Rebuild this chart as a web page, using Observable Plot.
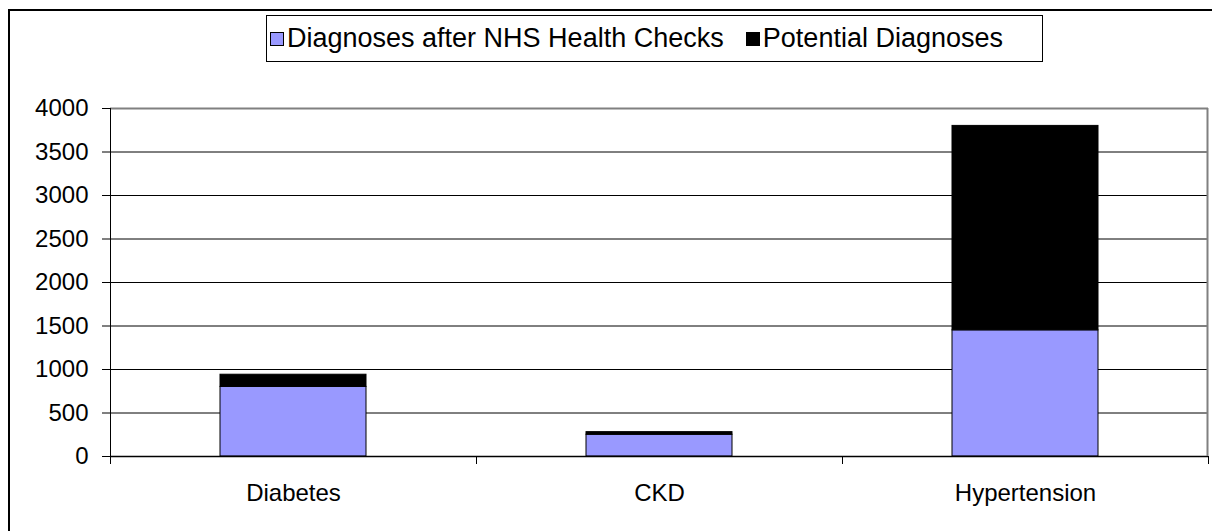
<!DOCTYPE html>
<html><head><meta charset="utf-8">
<script src="https://cdn.jsdelivr.net/npm/d3@7"></script>
<script src="https://cdn.jsdelivr.net/npm/@observablehq/plot@0.6"></script>
<style>
body{margin:0;background:#fff;font-family:"Liberation Sans",Arial,sans-serif;}
#wrap{position:relative;width:1212px;height:531px;overflow:hidden;background:#fff;}
#frame{position:absolute;left:8px;top:9px;width:1300px;height:700px;border:2px solid #000;box-sizing:border-box;pointer-events:none;}
#chart{position:absolute;left:0;top:0;}
#legend{position:absolute;left:266px;top:15px;width:777px;height:47px;border:1px solid #000;box-sizing:border-box;background:#fff;font-size:27px;color:#000;}
#legend .sw{position:absolute;top:16px;width:12px;height:12px;border:1px solid #000;}
#legend .lb{position:absolute;top:7px;line-height:30px;white-space:nowrap;}
</style>
</head><body>
<div id="wrap">
  <div id="chart"></div>
  <div id="frame"></div>
  <div id="legend"></div>
</div>
<script>
const categories = ["Diabetes", "CKD", "Hypertension"];
const seriesNames = ["Diagnoses after NHS Health Checks", "Potential Diagnoses"];
const diagnosed = [800, 250, 1450];
const potential = [140, 30, 2350];
const yTicks = [0, 500, 1000, 1500, 2000, 2500, 3000, 3500, 4000];
const colors = ["#9999FF", "#000000"];

const data = categories.flatMap((c, i) => [
  {category: c, series: seriesNames[0], value: diagnosed[i]},
  {category: c, series: seriesNames[1], value: potential[i]}
]);

// custom render: axis line, plot border, category boundary ticks
function frameAndTicks(index, scales, values, dims) {
  const {width, height, marginLeft, marginRight, marginTop, marginBottom} = dims;
  const x = scales.x;
  const step = x(categories[1]) - x(categories[0]);
  const bw = x.bandwidth ? x.bandwidth() : 0;
  const gap = (step - bw) / 2;
  const bounds = categories.map(c => x(c) - gap);
  bounds.push(x(categories[categories.length - 1]) + bw + gap);
  const yb = height - marginBottom;
  const g = d3.create("svg:g");
  g.append("line").attr("x1", width - marginRight - 0.5).attr("x2", width - marginRight - 0.5)
    .attr("y1", marginTop).attr("y2", yb).attr("stroke", "#808080").attr("stroke-width", 2);
  g.append("line").attr("x1", marginLeft + 0.5).attr("x2", marginLeft + 0.5)
    .attr("y1", marginTop).attr("y2", yb).attr("stroke", "#000");
  for (const b of bounds) {
    g.append("line").attr("x1", Math.round(b) + 0.5).attr("x2", Math.round(b) + 0.5)
      .attr("y1", yb).attr("y2", yb + 8).attr("stroke", "#000");
  }
  return g.node();
}

const chart = Plot.plot({
  width: 1212,
  height: 531,
  marginLeft: 110,
  marginRight: 4,
  marginTop: 108,
  marginBottom: 75,
  style: {fontFamily: "'Liberation Sans', Arial, sans-serif", fontSize: "24px", color: "#000", background: "transparent"},
  x: {domain: categories, paddingInner: 0.6, paddingOuter: 0.3, label: null},
  y: {domain: [0, 4000], label: null},
  color: {domain: seriesNames, range: colors},
  marks: [
    Plot.ruleY(yTicks.filter(v => v > 0 && v < 4000), {stroke: "#000", strokeWidth: 1}),
    Plot.ruleY([4000], {stroke: "#808080", strokeWidth: 2}),
    Plot.barY(data, {x: "category", y: "value", fill: "series", stroke: "#000", strokeWidth: 1}),
    Plot.ruleY([0], {stroke: "#000", strokeWidth: 1.5}),
    Plot.axisY({ticks: yTicks, tickSize: 8, tickPadding: 14, fontSize: 24, label: null, tickFormat: d => String(d)}),
    Plot.axisX({tickSize: 0, tickPadding: 27, fontSize: 24, label: null}),
    frameAndTicks
  ]
});
document.getElementById("chart").appendChild(chart);

// legend: first label starts after its swatch, second label ends near right of box
const legend = document.getElementById("legend");
const labels = seriesNames.map((name, i) => {
  const lb = document.createElement("div");
  lb.className = "lb";
  lb.textContent = name;
  legend.appendChild(lb);
  return lb;
});
const sws = seriesNames.map((name, i) => {
  const sw = document.createElement("div");
  sw.className = "sw";
  sw.style.background = colors[i];
  legend.appendChild(sw);
  return sw;
});
sws[0].style.left = "3px";
labels[0].style.left = "20px";
const w2 = labels[1].getBoundingClientRect().width;
const l2 = 1003 - 267 - w2;
labels[1].style.left = l2 + "px";
sws[1].style.left = (l2 - 17) + "px";
</script>
</body></html>
